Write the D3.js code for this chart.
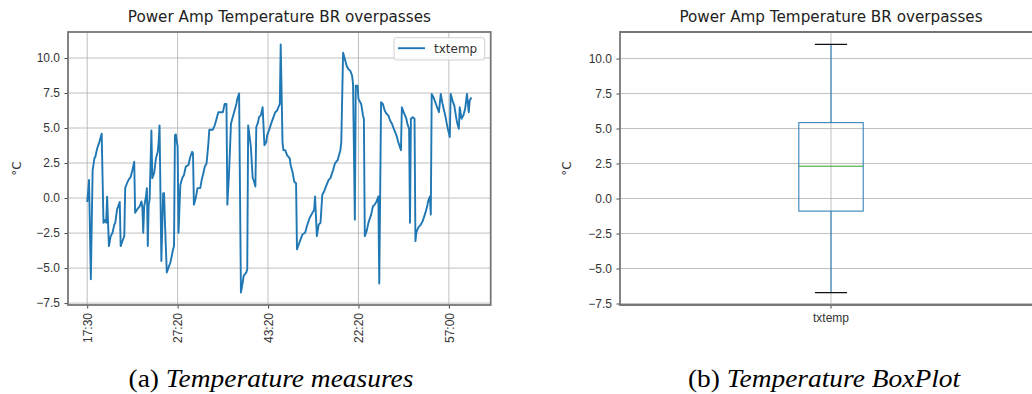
<!DOCTYPE html>
<html>
<head>
<meta charset="utf-8">
<script src="https://cdn.jsdelivr.net/npm/d3@7"></script>
<style>
  body { margin: 0; background: #fff; }
  svg { display: block; font-family: "DejaVu Sans", sans-serif; }
  .grid line { stroke: #b0b0b0; stroke-width: 0.8; }
  .axis path { display: none; }
  .axis line { stroke: #444; }
  .axis text { fill: #333; font-size: 12px; }
  .title { font-size: 15.2px; fill: #222; }
  .caption { font-family: "Liberation Serif", "Times New Roman", serif; font-size: 24.5px; fill: #000; }
</style>
</head>
<body>
<svg width="1032" height="394"></svg>
<script>
// sample number of each reading and its temperature (°C)
var sampleIdx = [0,1,2,4,6,8,9,11,13,16,18,20,21,22,24,26,28,30,31,33,36,37,39,41,42,44,46,48,50,52,
  53,55,58,60,61,62,63,65,66,67,68,69,71,72,74,76,78,79,80,82,84,85,86,88,90,92,95,96,97,98,
  100,101,103,105,107,109,112,114,116,117,118,120,122,125,127,128,130,132,134,135,139,141,142,145,150,152,154,155,157,159,
  161,163,165,166,168,170,172,173,176,177,178,179,181,183,184,186,187,189,190,192,194,196,198,199,201,204,206,208,210,213,
  214,216,217,219,221,224,225,227,229,231,232,234,236,238,241,243,246,248,251,252,254,256,258,260,262,264,267,269,272,274,
  277,280,281,283,285,287,289,291,293,294,296,297,299,300,303,305,306,307,309,311,314,316,318,320,322,323,325,327,329,331,
  333,335,337,339,342,344,347,348,350,353,354,356,357,358,360,362,363,364,366,369,371,374,376,377,379,380,381,383,385,387,
  389,391,393,396,398,401,402,404,406,408,409,411,412,414,416,418,420,422,423,425];
var txtemp = [-0.28,0.47,1.3,-5.8,2.0,2.85,2.95,3.54,3.9,4.6,-1.77,-1.54,-1.77,0.1,-3.43,-2.72,-2.48,-1.89,-1.77,-0.83,-0.28,-3.43,-3.07,-2.72,0.71,1.06,1.34,1.49,2.0,2.59,
  -1.06,-0.83,-0.59,-0.24,-0.7,-2.48,-0.59,0.11,0.71,-3.43,-0.47,-0.12,4.83,1.42,1.77,2.83,3.3,4.0,5.19,-4.49,0.35,0.35,-1.77,-5.31,-4.95,-4.6,-3.66,-3.43,4.48,4.55,
  3.65,-2.48,0.94,1.42,1.65,2.24,2.36,2.95,3.3,3.2,-0.47,0.0,0.71,0.71,1.42,1.65,2.24,2.48,3.89,4.88,4.88,5.19,5.42,6.13,6.13,6.72,6.72,-0.47,2.0,5.31,
  5.78,6.25,6.72,7.08,7.47,-6.75,-6.02,-5.55,-5.31,-5.07,5.19,4.71,3.65,1.42,1.3,0.82,5.07,5.42,5.78,5.9,6.48,3.77,4.0,4.48,4.83,5.42,5.78,6.13,6.25,6.72,
  10.97,4.0,3.42,3.42,3.06,2.83,2.36,1.88,1.17,1.06,-3.66,-3.3,-2.95,-2.6,-2.48,-2.0,-1.42,-1.18,-0.83,0.11,-2.72,-1.89,-1.77,0.24,0.47,0.82,1.3,1.42,2.0,2.48,
  2.71,3.42,4.0,10.37,9.91,9.43,9.2,9.08,8.73,8.14,-1.54,8.02,8.02,7.08,6.72,5.9,5.66,-2.72,-2.36,-1.77,-1.18,-0.59,-0.47,-0.24,0.11,-6.1,6.84,6.72,6.25,6.02,
  5.9,5.54,5.31,4.95,4.48,4.0,3.42,6.48,6.13,5.66,5.31,4.95,-1.77,5.66,5.78,5.66,-3.07,-2.48,-2.12,-1.89,-1.65,-1.06,-0.59,-0.24,0.11,-1.18,7.43,7.19,6.84,6.48,
  6.13,7.43,6.72,5.9,5.19,4.36,7.43,6.96,6.6,5.78,5.42,4.95,6.48,5.66,5.9,6.37,7.43,6.13,6.96,7.19];

var tickIdx = [0, 100, 200, 300, 400];
var tickLabels = ["17:30", "27:20", "43:20", "22:20", "57:00"];
var yTicks = [-7.5, -5, -2.5, 0, 2.5, 5, 7.5, 10];

// boxplot: low whisker, q1, median, q3, high whisker
var boxLabels = ["txtemp"];
var boxStats = [-6.72, -0.9, 2.31, 5.42, 11.01];

var titleText = "Power Amp Temperature BR overpasses";
var blue = "#1f77b4";

var svg = d3.select("svg");
var top_ = 32, bottom = 305;

function pad(ext) {
  var m = (ext[1] - ext[0]) * 0.05;
  return [ext[0] - m, ext[1] + m];
}

// ---------- left: line chart ----------
var L = {left: 68, right: 490.7};
var x = d3.scaleLinear().domain(pad(d3.extent(sampleIdx))).range([L.left, L.right]);
var y = d3.scaleLinear().domain(pad(d3.extent(txtemp))).range([bottom, top_]);

var g1 = svg.append("g");

g1.append("g").attr("class", "grid")
  .selectAll("line.h").data(yTicks).enter().append("line")
  .attr("x1", L.left).attr("x2", L.right)
  .attr("y1", function(d) { return y(d); }).attr("y2", function(d) { return y(d); });
g1.append("g").attr("class", "grid")
  .selectAll("line.v").data(tickIdx).enter().append("line")
  .attr("y1", top_).attr("y2", bottom)
  .attr("x1", function(d) { return x(d); }).attr("x2", function(d) { return x(d); });

var pts = sampleIdx.map(function(s, i) { return [s, txtemp[i]]; });
g1.append("path")
  .datum(pts)
  .attr("fill", "none")
  .attr("stroke", blue)
  .attr("stroke-width", 1.9)
  .attr("stroke-linejoin", "round")
  .attr("d", d3.line().x(function(d) { return x(d[0]); }).y(function(d) { return y(d[1]); }));

g1.append("g").attr("class", "axis")
  .attr("transform", "translate(" + L.left + ",0)")
  .call(d3.axisLeft(y).tickValues(yTicks).tickFormat(d3.format(".1f")).tickSize(3.5).tickPadding(4.5));

var xa = g1.append("g").attr("class", "axis")
  .attr("transform", "translate(0," + bottom + ")")
  .call(d3.axisBottom(x).tickValues(tickIdx)
    .tickFormat(function(d, i) { return tickLabels[i]; }).tickSize(3.5).tickPadding(4));
xa.selectAll("text")
  .attr("transform", "rotate(-90)")
  .attr("text-anchor", "end")
  .attr("x", -8).attr("y", 0).attr("dy", "0.35em");

g1.append("rect")
  .attr("x", L.left).attr("y", top_)
  .attr("width", L.right - L.left).attr("height", bottom - top_)
  .attr("fill", "none").attr("stroke", "#777").attr("stroke-width", 1.8);

g1.append("text").attr("class", "title")
  .attr("x", (L.left + L.right) / 2).attr("y", 22)
  .attr("text-anchor", "middle").text(titleText);

g1.append("text")
  .attr("transform", "translate(21," + ((top_ + bottom) / 2) + ") rotate(-90)")
  .attr("text-anchor", "middle").attr("font-size", 12).attr("fill", "#333")
  .text("°C");

// legend
var lg = g1.append("g").attr("transform", "translate(394,37.7)");
lg.append("rect").attr("width", 90.7).attr("height", 22.3).attr("rx", 2.5)
  .attr("fill", "#fff").attr("fill-opacity", 0.8).attr("stroke", "#d0d0d0");
lg.append("line").attr("x1", 4).attr("x2", 31).attr("y1", 10.5).attr("y2", 10.5)
  .attr("stroke", blue).attr("stroke-width", 1.9);
lg.append("text").attr("x", 40).attr("y", 15).attr("font-size", 12).attr("fill", "#333").text("txtemp");

// ---------- right: boxplot ----------
var R = {left: 620, right: 1042};
var xb = d3.scaleBand().domain(boxLabels).range([R.left, R.right]);
var yb = d3.scaleLinear().domain(pad([boxStats[0], boxStats[4]])).range([bottom, top_]);

var g2 = svg.append("g");
g2.append("g").attr("class", "grid")
  .selectAll("line").data(yTicks).enter().append("line")
  .attr("x1", R.left).attr("x2", R.right)
  .attr("y1", function(d) { return yb(d); }).attr("y2", function(d) { return yb(d); });
g2.append("g").attr("class", "grid")
  .selectAll("line").data(boxLabels).enter().append("line")
  .attr("y1", top_).attr("y2", bottom)
  .attr("x1", function(d) { return xb(d) + xb.bandwidth() / 2; })
  .attr("x2", function(d) { return xb(d) + xb.bandwidth() / 2; });

var cx = xb(boxLabels[0]) + xb.bandwidth() / 2;
var bw = xb.bandwidth() * 0.1525;
var box = g2.append("g");
box.append("line").attr("x1", cx).attr("x2", cx)
  .attr("y1", yb(boxStats[3])).attr("y2", yb(boxStats[4])).attr("stroke", blue);
box.append("line").attr("x1", cx).attr("x2", cx)
  .attr("y1", yb(boxStats[0])).attr("y2", yb(boxStats[1])).attr("stroke", blue);
box.append("rect")
  .attr("x", cx - bw / 2).attr("width", bw)
  .attr("y", yb(boxStats[3])).attr("height", yb(boxStats[1]) - yb(boxStats[3]))
  .attr("fill", "none").attr("stroke", blue);
box.append("line").attr("x1", cx - bw / 2).attr("x2", cx + bw / 2)
  .attr("y1", yb(boxStats[2])).attr("y2", yb(boxStats[2])).attr("stroke", "#2ca02c");
[boxStats[0], boxStats[4]].forEach(function(v) {
  box.append("line").attr("x1", cx - bw / 4).attr("x2", cx + bw / 4)
    .attr("y1", yb(v)).attr("y2", yb(v)).attr("stroke", "#111").attr("stroke-width", 1.2);
});

g2.append("g").attr("class", "axis")
  .attr("transform", "translate(" + R.left + ",0)")
  .call(d3.axisLeft(yb).tickValues(yTicks).tickFormat(d3.format(".1f")).tickSize(3.5).tickPadding(4.5));
g2.append("g").attr("class", "axis")
  .attr("transform", "translate(0," + bottom + ")")
  .call(d3.axisBottom(xb).tickSize(3.5).tickPadding(5));

g2.append("path")
  .attr("d", "M" + R.right + "," + top_ + "H" + R.left + "V" + bottom + "H" + R.right)
  .attr("fill", "none").attr("stroke", "#777").attr("stroke-width", 1.8);

g2.append("text").attr("class", "title")
  .attr("x", (R.left + R.right) / 2).attr("y", 22)
  .attr("text-anchor", "middle").text(titleText);

g2.append("text")
  .attr("transform", "translate(571," + ((top_ + bottom) / 2) + ") rotate(-90)")
  .attr("text-anchor", "middle").attr("font-size", 12).attr("fill", "#333")
  .text("°C");

// ---------- captions (slightly wider than the stock serif) ----------
function caption(cxp, tag, txt) {
  var t = svg.append("text").attr("class", "caption")
    .attr("transform", "translate(" + cxp + ",387) scale(1.12,1)")
    .attr("text-anchor", "middle");
  t.append("tspan").text(tag + " ");
  t.append("tspan").attr("font-style", "italic").text(txt);
}
caption(271, "(a)", "Temperature measures");
caption(824, "(b)", "Temperature BoxPlot");
</script>
</body>
</html>
